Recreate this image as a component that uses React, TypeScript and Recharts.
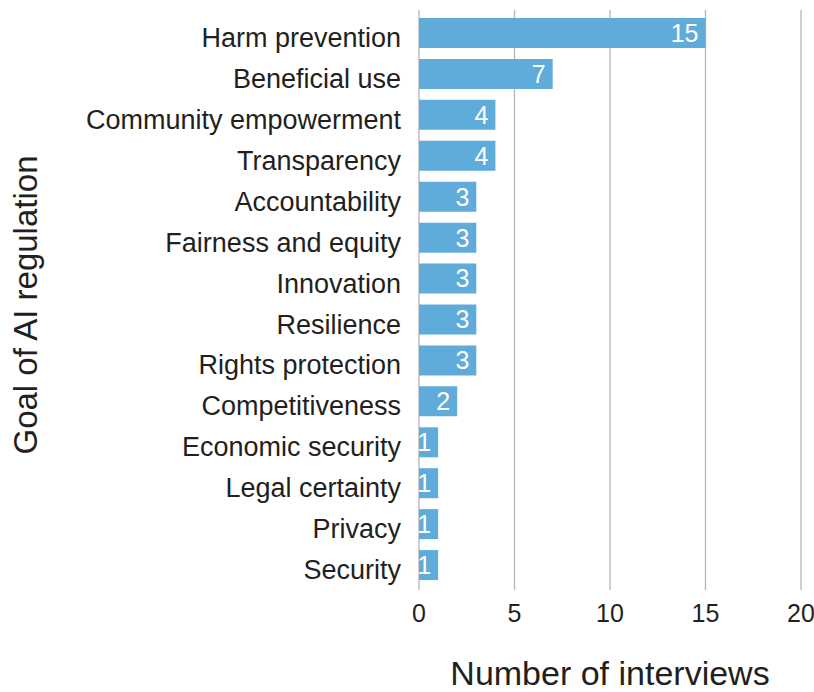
import React from "react";
import {
  BarChart,
  Bar,
  XAxis,
  YAxis,
  CartesianGrid,
  LabelList,
  Label,
} from "recharts";

// Goals mentioned in interviews, top to bottom
const goals: string[] = [
  "Harm prevention",
  "Beneficial use",
  "Community empowerment",
  "Transparency",
  "Accountability",
  "Fairness and equity",
  "Innovation",
  "Resilience",
  "Rights protection",
  "Competitiveness",
  "Economic security",
  "Legal certainty",
  "Privacy",
  "Security",
];

const interviews: number[] = [15, 7, 4, 4, 3, 3, 3, 3, 3, 2, 1, 1, 1, 1];

const xTicks: number[] = [0, 5, 10, 15, 20];

const data = goals.map((goal, i) => ({ goal, count: interviews[i] }));

const FONT = '"Liberation Sans", Arial, Helvetica, sans-serif';
const TEXT = "#231f20";

// rotated y-axis title, drawn by hand so it can sit exactly where the original has it
const YTitle = (props: any) => {
  const { viewBox } = props;
  const x = viewBox.x + 25;
  const y = viewBox.y + viewBox.height / 2 + 5;
  return (
    <text
      x={x}
      y={y}
      transform={`rotate(-90, ${x}, ${y})`}
      textAnchor="middle"
      dominantBaseline="central"
      fontSize={33}
      fontFamily={FONT}
      fill={TEXT}
    >
      Goal of AI regulation
    </text>
  );
};

const App: React.FC = () => {
  return (
    <div style={{ position: "absolute", left: 0, top: 0 }}>
      <BarChart
        width={814}
        height={692}
        data={data}
        layout="vertical"
        margin={{ top: 10, right: 13, left: 0, bottom: 0 }}
      >
        <CartesianGrid horizontal={false} stroke="#b5b5b5" strokeWidth={1.3} />
        <XAxis
          type="number"
          domain={[0, 20]}
          ticks={xTicks}
          axisLine={false}
          tickLine={false}
          tickSize={0}
          tickMargin={14}
          height={102}
          tick={{ fontSize: 25, fill: TEXT, fontFamily: FONT }}
        >
          <Label
            value="Number of interviews"
            position="insideBottom"
            offset={7}
            fontSize={34}
            fontFamily={FONT}
            fill={TEXT}
          />
        </XAxis>
        <YAxis
          type="category"
          dataKey="goal"
          width={419}
          axisLine={false}
          tickLine={false}
          tickSize={0}
          tickMargin={18}
          interval={0}
          padding={{ top: 3, bottom: 4 }}
          tick={{ fontSize: 27, fill: TEXT, fontFamily: FONT, dy: 4 }}
        >
          <Label content={<YTitle />} />
        </YAxis>
        <Bar dataKey="count" fill="#5fabda" barSize={30} isAnimationActive={false}>
          <LabelList
            dataKey="count"
            position="insideRight"
            offset={7}
            fill="#ffffff"
            fontSize={25}
            fontFamily={FONT}
          />
        </Bar>
      </BarChart>
    </div>
  );
};

export default App;
